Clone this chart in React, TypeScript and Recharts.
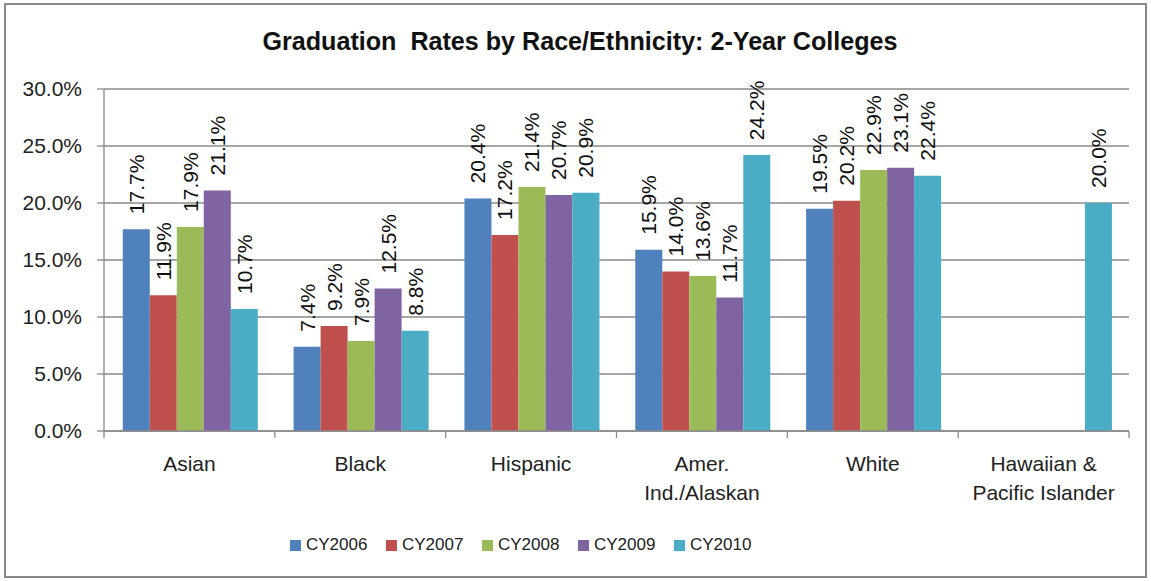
import React from 'react';
import { BarChart, Bar, XAxis, YAxis, CartesianGrid, LabelList, Legend } from 'recharts';

const categories = ['Asian', 'Black', 'Hispanic', 'Amer.\nInd./Alaskan', 'White', 'Hawaiian &\nPacific Islander'];
const seriesNames = ['CY2006', 'CY2007', 'CY2008', 'CY2009', 'CY2010'];
const cy2006 = [17.7, 7.4, 20.4, 15.9, 19.5, null];
const cy2007 = [11.9, 9.2, 17.2, 14.0, 20.2, null];
const cy2008 = [17.9, 7.9, 21.4, 13.6, 22.9, null];
const cy2009 = [21.1, 12.5, 20.7, 11.7, 23.1, null];
const cy2010 = [10.7, 8.8, 20.9, 24.2, 22.4, 20.0];
const seriesValues = [cy2006, cy2007, cy2008, cy2009, cy2010];
const colors = ['#4F81BD', '#C0504D', '#9BBB59', '#8064A2', '#4BACC6'];
const yTicks = [0, 5, 10, 15, 20, 25, 30];
const title = 'Graduation  Rates by Race/Ethnicity: 2-Year Colleges';

const data = categories.map((name, i) => {
  const row: any = { name };
  seriesNames.forEach((s, j) => {
    row[s] = seriesValues[j][i];
  });
  return row;
});

const GRID = '#8a8a8a';
const FONT = "'Liberation Sans', Arial, sans-serif";

const renderValueLabel = (props: any) => {
  const { x, y, width, value } = props;
  if (value == null) return null;
  const cx = Number(x) + Number(width) / 2;
  const ty = Number(y) - 15;
  return (
    <text
      x={cx}
      y={ty}
      transform={`rotate(-90 ${cx} ${ty})`}
      textAnchor="start"
      dominantBaseline="central"
      fontSize={21}
      fill="#111"
    >
      {Number(value).toFixed(1)}%
    </text>
  );
};

const CategoryTick = (props: any) => {
  const { x, y, payload, index, visibleTicksCount } = props;
  const half = payload.offset || 0;
  const lines = String(payload.value).split('\n');
  const last = index === (visibleTicksCount ?? categories.length) - 1;
  return (
    <g>
      <line x1={x - half} x2={x - half} y1={y} y2={y + 7} stroke={GRID} strokeWidth={1.3} />
      {last && <line x1={x + half} x2={x + half} y1={y} y2={y + 7} stroke={GRID} strokeWidth={1.3} />}
      {lines.map((l, i) => (
        <text key={i} x={x} y={y + 40 + i * 29} textAnchor="middle" fontSize={21} fill="#222">
          {l}
        </text>
      ))}
    </g>
  );
};

const renderLegend = () => (
  <div style={{ display: 'flex', alignItems: 'center', height: 20, fontFamily: FONT }}>
    {seriesNames.map((n, i) => (
      <div key={n} style={{ width: 96, display: 'flex', alignItems: 'center' }}>
        <span style={{ display: 'inline-block', width: 11, height: 11, background: colors[i], marginRight: 5 }} />
        <span style={{ fontSize: 17, color: '#222' }}>{n}</span>
      </div>
    ))}
  </div>
);

export default function App() {
  return (
    <div style={{ position: 'absolute', left: 0, top: 0, width: 1151, height: 581, background: '#fff', fontFamily: FONT }}>
      <BarChart
        width={1151}
        height={581}
        data={data}
        margin={{ top: 89, right: 22, left: 24, bottom: 40 }}
        barCategoryGap="11%"
        barGap={0}
      >
        <CartesianGrid vertical={false} stroke={GRID} strokeWidth={1.3} />
        <XAxis
          dataKey="name"
          interval={0}
          height={90}
          axisLine={{ stroke: GRID, strokeWidth: 1.3 }}
          tickLine={false}
          tickSize={0}
          tickMargin={0}
          tick={<CategoryTick />}
        />
        <YAxis
          width={80}
          domain={[0, 30]}
          ticks={yTicks}
          interval={0}
          tickFormatter={(v: number) => `${v.toFixed(1)}%`}
          axisLine={{ stroke: GRID, strokeWidth: 1.3 }}
          tickLine={{ stroke: GRID, strokeWidth: 1.3 }}
          tickSize={7}
          tickMargin={15}
          tick={{ fontSize: 21, fill: '#222' }}
        />
        <Legend
          verticalAlign="bottom"
          content={renderLegend}
          wrapperStyle={{ left: 290, top: 535, width: 480, height: 20 }}
        />
        {seriesNames.map((s, i) => (
          <Bar key={s} dataKey={s} name={s} fill={colors[i]} isAnimationActive={false}>
            <LabelList dataKey={s} content={renderValueLabel} />
          </Bar>
        ))}
      </BarChart>
      <svg width={1151} height={581} style={{ position: 'absolute', left: 0, top: 0, pointerEvents: 'none' }}>
        <text
          x={580}
          y={50}
          textAnchor="middle"
          fontSize={25}
          fontWeight="bold"
          fill="#111"
          textLength={635}
          lengthAdjust="spacingAndGlyphs"
          style={{ fontFamily: "'Liberation Sans Narrow', 'Liberation Sans', Arial, sans-serif", whiteSpace: 'pre' }}
        >
          {title}
        </text>
      </svg>
      <div style={{ position: 'absolute', left: 4, top: 3, width: 1143, height: 575, boxSizing: 'border-box', border: '2px solid #888', pointerEvents: 'none' }} />
    </div>
  );
}
